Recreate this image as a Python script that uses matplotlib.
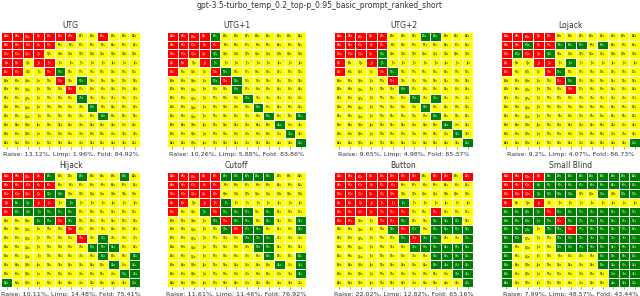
import matplotlib
matplotlib.use("Agg")
import matplotlib.pyplot as plt
from matplotlib.colors import ListedColormap
import numpy as np

ranks = ['A', 'K', 'Q', 'J', 'T', '9', '8', '7', '6', '5', '4', '3', '2']
positions = ['UTG', 'UTG+1', 'UTG+2', 'Lojack', 'Hijack', 'Cutoff', 'Button', 'Small Blind']
title = "gpt-3.5-turbo_temp_0.2_top-p_0.95_basic_prompt_ranked_short"

# r = raise, l = limp, f = fold  (row = first card, upper right = suited)
utg = ["rrrrrrrffrfff", "rrrrrffffffff", "rrrrfffffffff", "rrfrrffffffff",
       "rrffrlfffffff", "fffffrflfffff", "ffffffrffffff", "ffffffflfffff",
       "fffffffflffff", "ffffffffflfff", "fffffffffffff", "fffffffffffff",
       "fffffffffffff"]
utg1 = ["rrrrlffffffff", "rrrrrffffffff", "rrrrlffffffff", "rrfrlffffffff",
        "rfffrlfffffff", "fffflrlffffff", "fffffflffffff", "ffffffflfffff",
        "fffffffflffff", "ffffffffflffl", "fffffffffflff", "ffffffffffflf",
        "ffffffffffffl"]
utg2 = ["rrrrrfffllfff", "rrrrrffffffff", "rrrrlffffffff", "rffrlffffffff",
        "rfffrlfffffff", "fffffrfffffff", "fffffflffffff", "ffffffflflfff",
        "fffffffflffff", "ffffffffflfff", "fffffffffflff", "ffffffffffflf",
        "ffffffffffffl"]
lojack = ["rrrrrffffffff", "rrlrrlllflfff", "rlrrlffffffff", "rffrrflffffff",
          "rfffrlfffffff", "fffffrlffffff", "ffffffrffffff", "fffffffffffff",
          "fffffffffffff", "fffffffffffff", "fffffffffffff", "fffffffffffff",
          "ffffffffffffl"]
hijack = ["rrrrlfflffflf", "rrrrrffffffff", "rrrrllfffffff", "rllrrflffffff",
          "rllllllffffff", "fffllrlffffff", "ffffffrffffff", "fffffffrflfff",
          "fffffffflllff", "ffffffffflffl", "fffffffffflfl", "fffffffffffll",
          "lfffffffffffl"]
cutoff = ["rrrrrlllllfff", "rrrrrffffffff", "rrrrrffffffff", "rrfrrlfffffff",
          "rfflrlllflfff", "fffflrllflffl", "ffffflrllfffl", "ffffffflllfff",
          "ffffffffllfff", "ffffffffflffl", "fffffffffflfl", "ffffffffffffl",
          "fffffffffffff"]
button = ["rrrrrrrrfrrfr", "rrrrrrfffffff", "rrrrrrfffffff", "rrrrrrlffffff",
          "rrrrrrrffrfff", "rrffrrlfflllf", "ffffflrlfllll", "fffffflrllffl",
          "fffffffllllll", "fffffffffllll", "fffffffffllll", "fffffffffffll",
          "ffffffffffffl"]
small_blind = ["rrrrlllllllll", "rrrllllllllll", "rrrllllfflfll", "rffrfffffffff",
               "llllrllllllll", "lllllrlllllll", "lllfllrllllll", "llfffllllllll",
               "lffffllllllll", "lffffffffllll", "lffffffffllll",
               "lffffffffflll", "lffffffffflll"]
grids = [utg, utg1, utg2, lojack, hijack, cutoff, button, small_blind]

raise_pct = ['13.12', '10.26', '9.65', '9.2', '10.11', '11.61', '22.02', '7.99']
limp_pct = ['1.96', '5.88', '4.98', '4.07', '14.48', '11.46', '12.82', '48.57']
fold_pct = ['84.92', '83.86', '85.37', '86.73', '75.41', '76.92', '65.16', '43.44']

code = {'r': 0, 'f': 1, 'l': 2}
cmap = ListedColormap(['red', 'yellow', 'green'])

fig = plt.figure(figsize=(6.4, 2.96), dpi=100)
fig.suptitle(title, fontsize=5.5, y=0.995, va='top', color='#333333')

lefts = [0.002, 0.261, 0.522, 0.783]
bottoms = [0.503, 0.030]
w, h = 0.217, 0.390

for k, (pos, grid) in enumerate(zip(positions, grids)):
    ax = fig.add_axes([lefts[k % 4], bottoms[k // 4], w, h])
    z = np.array([[code[c] for c in row] for row in grid])
    ax.pcolormesh(z, cmap=cmap, vmin=0, vmax=2, edgecolors='white', linewidth=0.6)
    ax.set_xlim(0, 13)
    ax.set_ylim(13, 0)
    for i in range(13):
        for j in range(13):
            if i == j:
                lab = ranks[i] + ranks[j] + 'o'
            elif i < j:
                lab = ranks[i] + ranks[j] + 's'
            else:
                lab = ranks[j] + ranks[i] + 'o'
            col = 'black' if z[i, j] == 1 else 'white'
            ax.text(j + 0.5, i + 0.5, lab, ha='center', va='center', fontsize=2.0, color=col)
    ax.set_xticks(np.arange(13) + 0.5)
    ax.set_xticklabels([])
    ax.set_yticks([])
    ax.tick_params(axis='x', length=1.5, width=0.4, color='#444444', pad=0)
    for s in ax.spines.values():
        s.set_visible(False)
    ax.set_title(pos, fontsize=5.5, pad=2.5, color='#333333')
    ax.set_xlabel("Raise: %s%%, Limp: %s%%, Fold: %s%%" % (raise_pct[k], limp_pct[k], fold_pct[k]),
                  fontsize=4.6, labelpad=1.8, color='#333333')

fig.savefig("out.png", dpi=100)
